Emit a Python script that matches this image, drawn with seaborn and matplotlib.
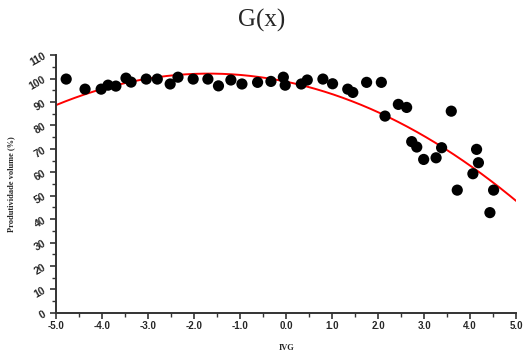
import numpy as np
import pandas as pd
import matplotlib
matplotlib.use("Agg")
import matplotlib.pyplot as plt
from matplotlib.ticker import MultipleLocator
import seaborn as sns

# Observed germination vigour index (IVG) vs. volume productivity (%)
ivg = [-4.78, -4.37, -4.02, -3.87, -3.70, -3.48, -3.37, -3.04, -2.80, -2.52,
       -2.35, -2.02, -1.70, -1.47, -1.20, -0.96, -0.62, -0.33, -0.06, -0.02,
       0.33, 0.46, 0.80, 1.01, 1.34, 1.45, 1.75, 2.07, 2.15, 2.44,
       2.62, 3.59, 2.73, 2.84, 2.99, 3.26, 3.38, 4.14, 4.18, 4.06,
       3.72, 4.51, 4.43]
produtividade = [99.8, 95.5, 95.5, 97.2, 96.8, 100.2, 98.5, 99.8, 99.8, 97.7,
                 100.6, 99.8, 99.8, 96.9, 99.4, 97.7, 98.4, 98.8, 100.6, 97.2,
                 97.7, 99.4, 99.8, 97.8, 95.5, 94.1, 98.4, 98.4, 84.0, 89.0,
                 87.7, 86.1, 73.1, 70.8, 65.5, 66.2, 70.5, 69.8, 64.1, 59.4,
                 52.4, 52.4, 42.8]

# Fitted quadratic G(x) = a*x^2 + b*x + c
coef_a, coef_b, coef_c = -1.218, -4.09, 98.7

x_ticks = [-5.0, -4.0, -3.0, -2.0, -1.0, 0.0, 1.0, 2.0, 3.0, 4.0, 5.0]
y_ticks = [0, 10, 20, 30, 40, 50, 60, 70, 80, 90, 100, 110]

pts = pd.DataFrame({"IVG": ivg, "Prod": produtividade})
xs = np.linspace(-5, 5, 200)
fit = pd.DataFrame({"IVG": xs, "G": coef_a * xs**2 + coef_b * xs + coef_c})

sns.set_theme(style="ticks")
fig = plt.figure(figsize=(5.24, 3.63), dpi=100)
ax = fig.add_axes([0.107, 0.138, 0.878, 0.710])

sns.lineplot(data=fit, x="IVG", y="G", color="#ff0000", linewidth=1.4, ax=ax)
sns.scatterplot(data=pts, x="IVG", y="Prod", color="black", s=65,
                edgecolor="none", ax=ax, zorder=3, clip_on=False)

ax.set_xlim(-5, 5)
ax.set_ylim(0, 110)
ax.set_xticks(x_ticks)
ax.set_yticks(y_ticks)
ax.xaxis.set_minor_locator(MultipleLocator(0.5))
ax.yaxis.set_minor_locator(MultipleLocator(5))
ax.set_xticklabels([f"{v:.1f}" for v in x_ticks], fontsize=7, fontweight="bold",
                   family="Liberation Sans")
ax.set_yticklabels([str(v) for v in y_ticks], fontsize=7.5, fontweight="bold",
                   family="Liberation Sans", rotation=30)
ax.tick_params(axis="both", which="major", length=4, width=1.2, color="#333333", pad=2)
ax.tick_params(axis="both", which="minor", length=3, width=1.0, color="#333333")

for side in ("top", "right"):
    ax.spines[side].set_visible(False)
for side in ("left", "bottom"):
    ax.spines[side].set_linewidth(1.4)
    ax.spines[side].set_color("#333333")

ax.set_xlabel("IVG", fontsize=6, fontweight="bold", family="Liberation Serif", labelpad=9)
ax.set_ylabel("Produtividade volume (%)", fontsize=6, fontweight="bold",
              family="Liberation Serif", labelpad=9)
fig.text(0.5, 0.945, "G(x)", ha="center", va="center", fontsize=18,
         family="Liberation Serif")

fig.savefig("out.png", dpi=100)
